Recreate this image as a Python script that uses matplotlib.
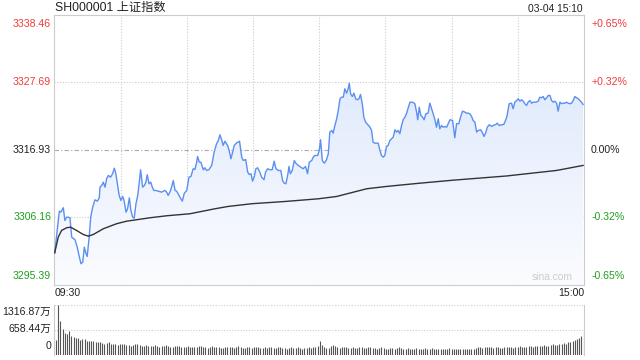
import numpy as np
import matplotlib
matplotlib.use("Agg")
import matplotlib.pyplot as plt
from matplotlib.colors import LinearSegmentedColormap
from matplotlib.patches import PathPatch

plt.rcParams['font.family'] = ['Liberation Sans', 'Noto Sans CJK SC', 'DejaVu Sans']

title = "SH000001 上证指数"
stamp = "03-04 15:10"
prev_close = 3316.93
price_ticks = [3338.46, 3327.69, 3316.93, 3306.16, 3295.39]
pct_ticks = ['+0.65%', '+0.32%', '0.00%', '-0.32%', '-0.65%']
vol_ticks = [1316.87, 658.44, 0]
vol_labels = ['1316.87万', '658.44万', '0']

# minutes since 09:30 (lunch break removed, 0..240) and index level
price_t = [0.2, 2.3, 3.0, 4.1, 4.8, 5.6, 6.3, 7.1, 7.9, 9.4, 10.4, 11.2, 12.1, 12.9, 13.6, 14.4,
           14.9, 15.8, 16.5, 17.4, 18.4, 19.5, 20.4, 20.7, 21.5, 22.2, 23.0, 23.7, 24.5, 25.5,
           26.4, 27.2, 27.9, 28.7, 29.4, 30.2, 31.0, 31.6, 32.5, 33.2, 34.0, 34.7, 35.5, 36.2,
           37.0, 37.8, 38.5, 39.1, 40.0, 40.8, 41.5, 42.1, 42.9, 43.7, 44.4, 45.1, 46.0, 47.1,
           48.6, 50.1, 50.9, 51.6, 52.7, 53.9, 54.7, 55.4, 56.1, 56.9, 58.0, 58.9, 60.0,
           61.0, 61.9, 62.9, 63.7, 64.5, 64.9, 65.7, 66.4, 67.5, 68.2, 69.0, 70.0, 71.3, 72.4,
           73.5, 74.3, 75.0, 75.8, 76.5, 77.3, 78.5, 79.2, 80.0, 80.6, 81.5, 82.6, 83.3, 83.9,
           84.9, 85.6, 86.7, 87.6, 88.3, 89.1, 89.8, 90.6, 91.3, 92.1, 93.1, 93.9, 95.0, 95.7,
           96.6, 97.7, 98.7, 99.6, 100.4, 101.4, 102.6, 103.4, 104.1, 104.9, 105.7, 106.3,
           106.9, 107.8, 108.7, 109.4, 110.5, 111.7, 112.7, 113.8, 114.7, 115.5, 116.6, 117.3,
           118.0, 119.3, 120.0, 120.6, 121.4, 122.3, 123.3, 124.1, 124.8, 125.7, 126.3, 127.1,
           127.9, 128.6, 129.4, 130.1, 130.9, 131.6, 132.4, 133.1, 133.6, 134.2, 135.0, 135.7,
           136.5, 137.2, 138.0, 138.7, 139.5, 140.2, 141.0, 141.9, 143.0, 143.7, 144.4, 145.2,
           146.7, 147.5, 148.2, 149.0, 149.7, 150.5, 151.2, 152.0, 152.8, 153.5, 154.3, 155.0,
           155.8, 156.5, 157.3, 158.0, 158.8, 159.6, 160.3, 161.1, 162.3, 163.3, 164.1, 164.6,
           165.3, 166.0, 166.8, 167.5, 168.3, 169.3, 170.1, 170.9, 171.6, 172.4, 173.1, 173.9,
           174.6, 175.4, 176.1, 176.9, 177.7, 178.4, 179.2, 180.4, 181.4, 182.2, 183.2, 184.0,
           184.9, 186.0, 186.7, 187.5, 188.2, 189.0, 189.7, 190.5, 191.3, 192.0, 193.1, 193.8,
           194.6, 195.5, 196.1, 197.0, 198.1, 198.8, 200.0, 200.6, 201.5, 202.6, 203.6, 204.5,
           205.1, 206.0, 207.1, 207.8, 208.6, 209.4, 210.1, 210.9, 211.6, 212.4, 213.1, 213.9,
           214.6, 215.4, 216.2, 216.9, 218.1, 219.2, 219.9, 220.7, 221.4, 222.2, 223.0, 223.7,
           224.5, 225.2, 226.0, 226.7, 227.5, 228.2, 229.0, 229.8, 230.5, 231.3, 232.0, 232.7,
           233.5, 234.3, 235.0, 235.8, 236.5, 237.3, 238.0, 238.8, 239.5]
price_v = [3300.50, 3307.14, 3306.98, 3307.68, 3305.65, 3306.18, 3306.18, 3306.08, 3302.99,
           3302.57, 3301.39, 3300.07, 3298.75, 3299.00, 3301.39, 3300.34, 3299.91, 3302.99,
           3306.18, 3307.77, 3308.95, 3308.73, 3309.27, 3310.96, 3311.24, 3311.76, 3310.96,
           3312.30, 3312.83, 3312.56, 3313.10, 3313.99, 3313.10, 3311.24, 3309.64, 3308.84,
           3309.48, 3308.84, 3306.98, 3307.52, 3309.27, 3307.25, 3306.18, 3306.02, 3308.32,
           3309.64, 3311.76, 3313.74, 3310.96, 3311.24, 3311.76, 3312.94, 3311.51, 3311.76,
           3310.96, 3310.44, 3310.44, 3310.33, 3310.17, 3310.44, 3310.17, 3309.64, 3310.44,
           3312.03, 3310.44, 3310.33, 3309.91, 3309.37, 3308.73, 3310.01, 3310.44,
           3312.56, 3312.67, 3313.90, 3313.79, 3314.95, 3315.86, 3314.95, 3314.95, 3313.74,
           3314.06, 3313.63, 3313.74, 3314.43, 3316.55, 3317.89, 3318.41, 3319.32, 3318.53,
           3317.62, 3318.30, 3317.62, 3316.82, 3315.49, 3316.29, 3317.62, 3318.05, 3318.14,
           3318.30, 3315.75, 3315.22, 3315.38, 3313.36, 3312.99, 3313.10, 3311.92, 3312.67,
           3313.90, 3314.06, 3313.36, 3312.56, 3312.15, 3313.36, 3313.90, 3313.74, 3313.74,
           3315.11, 3313.90, 3313.63, 3313.63, 3312.03, 3311.60, 3311.51, 3312.83, 3314.27,
           3313.10, 3313.63, 3315.22, 3314.79, 3314.43, 3314.15, 3313.90, 3314.27, 3313.10,
           3314.95, 3315.22, 3315.75, 3316.02, 3316.02, 3316.82, 3318.53, 3315.22, 3314.79,
           3315.34, 3316.29, 3319.74, 3320.01, 3319.58, 3320.81, 3321.87, 3323.20, 3325.06,
           3325.32, 3325.32, 3326.66, 3325.96, 3326.66, 3327.55, 3325.86, 3325.43, 3325.96,
           3325.06, 3324.91, 3325.06, 3325.75, 3324.27, 3322.13, 3321.33, 3320.97, 3320.53,
           3320.01, 3318.14, 3317.98, 3317.98, 3316.82, 3316.02, 3315.75, 3316.02, 3317.46,
           3317.62, 3318.41, 3318.68, 3318.94, 3320.12, 3319.74, 3320.01, 3319.48, 3320.81,
           3321.72, 3322.13, 3322.77, 3323.63, 3324.52, 3324.52, 3324.27, 3322.93, 3321.72,
           3323.72, 3322.40, 3322.13, 3321.72, 3322.67, 3322.77, 3324.36, 3323.47, 3322.67,
           3321.72, 3320.53, 3321.87, 3320.28, 3320.81, 3320.53, 3320.64, 3320.53, 3321.08,
           3321.72, 3321.60, 3318.84, 3321.08, 3321.08, 3322.13, 3323.09, 3322.93, 3322.77,
           3322.77, 3322.67, 3322.24, 3321.60, 3321.33, 3319.74, 3320.01, 3320.12, 3319.74,
           3319.05, 3319.74, 3320.53, 3320.92, 3320.65, 3320.81, 3320.97, 3321.17, 3320.81,
           3320.92, 3320.97, 3321.72, 3322.40, 3324.27, 3324.36, 3323.47, 3324.52, 3324.79,
           3325.06, 3324.68, 3324.91, 3324.68, 3324.27, 3324.00, 3324.52, 3324.79, 3324.36,
           3324.52, 3324.52, 3324.68, 3325.32, 3325.22, 3325.43, 3324.91, 3325.22, 3325.59,
           3325.59, 3324.79, 3324.52, 3324.68, 3324.36, 3323.09, 3324.52, 3324.27, 3324.36,
           3324.36, 3324.52, 3324.36, 3324.27, 3324.36, 3324.79, 3325.43, 3325.22, 3325.06,
           3324.79, 3324.52, 3324.15]

avg_t = [0.2, 1.8, 3.3, 5.6, 7.4, 10.1, 13.1, 15.4, 17.7, 22.2, 28.2, 32.8, 37.3, 43.3,
         50.9, 61.4, 72.8, 78.8, 89.4, 104.5, 119.6, 127.9, 141.5, 150.5, 165.6, 180.7,
         204.9, 211.0, 227.5, 239.5]
avg_v = [3300.50, 3302.99, 3304.06, 3304.49, 3304.58, 3304.06, 3303.42, 3303.15, 3303.42,
         3304.33, 3305.13, 3305.54, 3305.77, 3306.08, 3306.40, 3306.72, 3307.52, 3307.89,
         3308.32, 3308.68, 3309.11, 3309.48, 3310.71, 3311.08, 3311.60, 3312.08, 3312.75,
         3312.99, 3313.63, 3314.43]

# per-minute volume, 万
vol = [395, 1317, 895, 676, 570, 540, 632, 500, 480, 456, 440, 395, 420, 410, 380, 370, 360, 380, 350, 330,
       340, 320, 300, 310, 330, 290, 300, 280, 270, 290, 300, 280, 260, 270, 250, 260, 280, 300, 270, 250,
       240, 260, 250, 230, 240, 260, 230, 220, 240, 250, 270, 240, 220, 210, 230, 250, 240, 220, 200, 210,
       230, 220, 210, 200, 220, 250, 230, 210, 200, 190, 210, 230, 220, 200, 210, 190, 180, 200, 220, 210,
       200, 190, 210, 230, 200, 190, 180, 200, 210, 190, 200, 220, 210, 190, 180, 200, 190, 210, 200, 190,
       180, 200, 210, 190, 180, 170, 190, 200, 180, 190, 200, 180, 170, 190, 180, 200, 190, 210, 220, 250,
       380, 260, 200, 180, 190, 230, 260, 240, 200, 190, 210, 220, 200, 180, 190, 200, 190, 180, 200, 210,
       190, 180, 200, 210, 190, 180, 170, 190, 200, 180, 170, 160, 180, 190, 170, 180, 200, 190, 170, 160,
       180, 170, 160, 170, 180, 160, 150, 170, 180, 170, 160, 180, 170, 160, 150, 170, 160, 150, 170, 180,
       170, 160, 150, 170, 160, 150, 160, 170, 160, 150, 170, 180, 200, 210, 190, 200, 220, 210, 200, 190,
       210, 200, 190, 180, 200, 210, 220, 200, 190, 210, 220, 230, 210, 200, 220, 230, 240, 220, 230, 250,
       230, 240, 260, 250, 240, 260, 280, 270, 260, 290, 300, 320, 300, 330, 350, 380, 400, 420, 460, 500,
       615]

RED, GREEN, BLACK = '#f23a3a', '#1f9e1f', '#222222'
label_colors = [RED, RED, BLACK, GREEN, GREEN]

fig = plt.figure(figsize=(6.4, 3.6), dpi=100)
ax = fig.add_axes([0.0848, 0.2089, 0.828, 0.75])
vax = fig.add_axes([0.0848, 0.0139, 0.828, 0.1389])

# gradient fill under the price line
poly = ax.fill_between(price_t, price_v, price_ticks[-1], color='none', lw=0)
clip = PathPatch(poly.get_paths()[0], transform=ax.transData, facecolor='none', edgecolor='none')
ax.add_patch(clip)
cmap = LinearSegmentedColormap.from_list('fade', ['#fbfcff', '#d8e5fb'])
im = ax.imshow(np.linspace(0, 1, 256).reshape(-1, 1), extent=[0, 240, price_ticks[-1], price_ticks[0]],
               aspect='auto', cmap=cmap, origin='lower', zorder=1)
im.set_clip_path(clip)

ax.plot(price_t, price_v, color='#5b8ff0', lw=1.0, zorder=3)
ax.plot(avg_t, avg_v, color='#333333', lw=1.0, zorder=3)

ax.set_xlim(0, 240)
ax.set_ylim(price_ticks[-1], price_ticks[0])
for t in range(30, 240, 30):
    ax.axvline(t, color='#cccccc', lw=0.8, ls=(0, (1, 1.5)), zorder=0)
for p in price_ticks[1:-1]:
    if p == prev_close:
        ax.axhline(p, color='#aaaaaa', lw=0.8, ls=(0, (4, 2, 1, 2)), zorder=0)
    else:
        ax.axhline(p, color='#cccccc', lw=0.8, ls=(0, (1, 1.5)), zorder=0)
for s in ax.spines.values():
    s.set_color('#cccccc')
ax.set_xticks([])
ax.set_yticks([])

fs = 7.6
for p, pct, c in zip(price_ticks, pct_ticks, label_colors):
    yy = (p - price_ticks[-1]) / (price_ticks[0] - price_ticks[-1])
    va = 'center'
    if yy > 0.99:
        yy, va = 0.985, 'top'
    elif yy < 0.01:
        yy, va = 0.015, 'bottom'
    ax.text(-0.006, yy, f'{p:.2f}', transform=ax.transAxes, ha='right', va=va, color=c, fontsize=fs)
    ax.text(1.013, yy, pct, transform=ax.transAxes, ha='left', va=va, color=c, fontsize=fs)

fig.text(0.0855, 1 - 8 / 360, title, ha='left', va='center', color=BLACK, fontsize=8.8)
fig.text(0.911, 1 - 8.5 / 360, stamp, ha='right', va='center', color=BLACK, fontsize=7.4)
ax.text(0.0, -0.012, '09:30', transform=ax.transAxes, ha='left', va='top', color=BLACK, fontsize=fs)
ax.text(1.0, -0.012, '15:00', transform=ax.transAxes, ha='right', va='top', color=BLACK, fontsize=fs)
ax.text(0.978, 0.012, 'sina.com', transform=ax.transAxes, ha='right', va='bottom', color='#cccccc', fontsize=7.4)

# volume panel
vax.vlines(np.arange(len(vol)), 0, vol, color='#555555', lw=0.8)
vax.set_xlim(-0.8, 240.3)
vax.set_ylim(0, vol_ticks[0])
for v in vol_ticks[:2]:
    vax.axhline(v, color='#cccccc', lw=0.8, ls=(0, (1, 1.5)), zorder=0)
for side in ['top', 'bottom']:
    vax.spines[side].set_visible(False)
for side in ['left', 'right']:
    vax.spines[side].set_color('#cccccc')
vax.set_xticks([])
vax.set_yticks([])
vax.text(-0.006, 0.97, vol_labels[0], transform=vax.transAxes, ha='right', va='top', color=BLACK, fontsize=fs)
vax.text(-0.006, 0.52, vol_labels[1], transform=vax.transAxes, ha='right', va='center', color=BLACK, fontsize=fs)
vax.text(-0.006, 0.08, vol_labels[2], transform=vax.transAxes, ha='right', va='bottom', color=BLACK, fontsize=fs)

fig.savefig('out.png', dpi=100)
